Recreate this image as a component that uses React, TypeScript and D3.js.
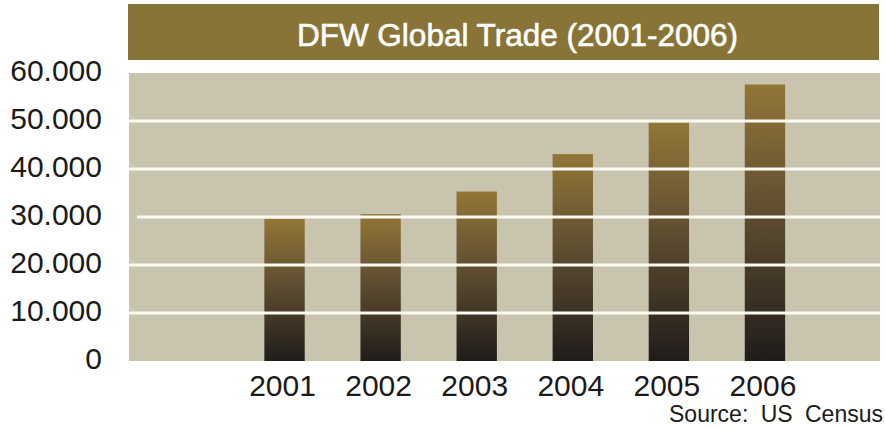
import React from "react";
import * as d3 from "d3";

const years = ["2001", "2002", "2003", "2004", "2005", "2006"];
const tradeValues = [29600, 30600, 35300, 43100, 49700, 57600];
const yTicks = [0, 10000, 20000, 30000, 40000, 50000, 60000];
const yTickLabels = ["0", "10.000", "20.000", "30.000", "40.000", "50.000", "60.000"];
const titleText = "DFW Global Trade (2001-2006)";
const sourceText = "Source: US Census";

const W = 885;
const H = 429;
const FONT = "'Liberation Sans', Arial, Helvetica, sans-serif";

export default function App() {
  const plotLeft = 129;
  const plotRight = 880;
  const y = d3.scaleLinear().domain([0, 60000]).range([361, 73]);
  const x = d3
    .scaleBand<string>()
    .domain(years)
    .range([236.5, 813])
    .paddingInner(0.58)
    .paddingOuter(0.29);

  return (
    <svg
      width={W}
      height={H}
      style={{ position: "absolute", left: 0, top: 0, background: "#ffffff" }}
      fontFamily={FONT}
    >
      <defs>
        <linearGradient id="barGrad" x1="0" y1="0" x2="0" y2="1">
          <stop offset="0%" stopColor="#927637" />
          <stop offset="45%" stopColor="#604e31" />
          <stop offset="100%" stopColor="#201c1b" />
        </linearGradient>
      </defs>

      {/* Title bar */}
      <rect x={128} y={4} width={751} height={56} fill="#877436" />
      <text
        x={517.5}
        y={46}
        fill="#ffffff"
        fontSize={31.5}
        textAnchor="middle"
        stroke="#ffffff"
        strokeWidth={0.6}
      >
        {titleText}
      </text>

      {/* Plot background */}
      <rect
        x={plotLeft}
        y={y(60000)}
        width={plotRight - plotLeft}
        height={y(0) - y(60000)}
        fill="#c8c4ae"
      />

      {/* Bars */}
      {years.map((yr, i) => (
        <rect
          key={yr}
          x={x(yr)}
          y={y(tradeValues[i])}
          width={x.bandwidth()}
          height={y(0) - y(tradeValues[i])}
          fill="url(#barGrad)"
        />
      ))}

      {/* Gridlines (over bars) */}
      {yTicks
        .filter((t) => t > 0 && t < 60000)
        .map((t) => (
          <line
            key={t}
            x1={t === 30000 ? plotLeft + 8 : plotLeft}
            x2={plotRight}
            y1={y(t)}
            y2={y(t)}
            stroke="#fbfaf3"
            strokeWidth={3}
          />
        ))}

      {/* Y labels */}
      {yTicks.map((t, i) => (
        <text
          key={t}
          x={102}
          y={y(t) + 8}
          textAnchor="end"
          fontSize={30}
          fill="#1a1a1a"
        >
          {yTickLabels[i]}
        </text>
      ))}

      {/* X labels */}
      {years.map((yr) => (
        <text
          key={yr}
          x={(x(yr) as number) + x.bandwidth() / 2 - 2}
          y={396}
          textAnchor="middle"
          fontSize={30}
          fill="#1a1a1a"
        >
          {yr}
        </text>
      ))}

      {/* Source */}
      <text
        x={883}
        y={422}
        fontSize={23}
        fill="#1a1a1a"
        textAnchor="end"
        style={{ wordSpacing: "6px" }}
      >
        {sourceText}
      </text>
    </svg>
  );
}
